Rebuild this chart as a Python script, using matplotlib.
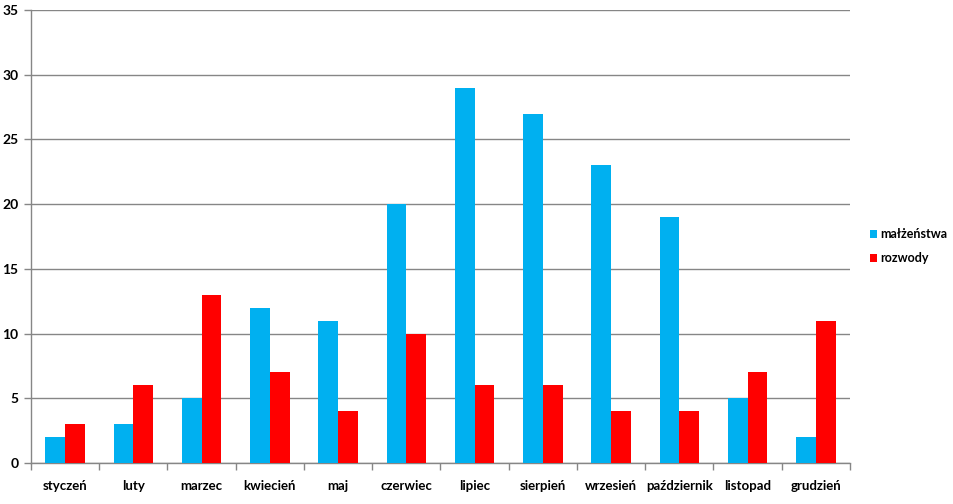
import matplotlib
matplotlib.use("Agg")
import matplotlib.pyplot as plt
import numpy as np

months = ["styczeń", "luty", "marzec", "kwiecień", "maj", "czerwiec", "lipiec",
          "sierpień", "wrzesień", "październik", "listopad", "grudzień"]
malzenstwa = [2, 3, 5, 12, 11, 20, 29, 27, 23, 19, 5, 2]
rozwody = [3, 6, 13, 7, 4, 10, 6, 6, 4, 4, 7, 11]
yticks = [0, 5, 10, 15, 20, 25, 30, 35]

plt.rcParams['font.family'] = ['Lato', 'DejaVu Sans']
plt.rcParams['font.weight'] = 'bold'

W, H = 954, 504
fig = plt.figure(figsize=(W / 100, H / 100), dpi=100)
ax = fig.add_axes([31 / W, (H - 463) / H, (850 - 31) / W, (463 - 10) / H])

x = np.arange(len(months))
bw = 0.29
ax.bar(x - bw / 2, malzenstwa, bw, color="#00B0F0", label="małżeństwa", zorder=3)
ax.bar(x + bw / 2, rozwody, bw, color="#FF0000", label="rozwody", zorder=3)

ax.set_xlim(-0.5, len(months) - 0.5)
ax.set_ylim(0, 35)
ax.set_yticks(yticks)
ax.set_yticklabels([str(v) for v in yticks], fontsize=10, fontweight='bold')
ax.yaxis.grid(True, color="#868686", linewidth=1, zorder=0)
ax.set_xticks(x)
ax.set_xticklabels(months, fontsize=9.5, fontweight='bold')
ax.tick_params(axis='x', length=0, pad=12)
ax.set_xticks(np.arange(-0.5, len(months)), minor=True)
ax.tick_params(axis='x', which='minor', length=5, color="#868686", width=1)
ax.tick_params(axis='y', length=5, color="#868686", width=1, pad=4)
for s in ['top', 'right']:
    ax.spines[s].set_visible(False)
for s in ['left', 'bottom']:
    ax.spines[s].set_color("#868686")
    ax.spines[s].set_linewidth(1)

leg = fig.legend(loc='upper left', bbox_to_anchor=(860 / W, 1 - 218 / H),
                 frameon=False, handlelength=0.6, handleheight=0.6,
                 handletextpad=0.25, labelspacing=1.0, borderpad=0.3,
                 prop={'weight': 'bold', 'size': 9})

fig.savefig("out.png", dpi=100)
